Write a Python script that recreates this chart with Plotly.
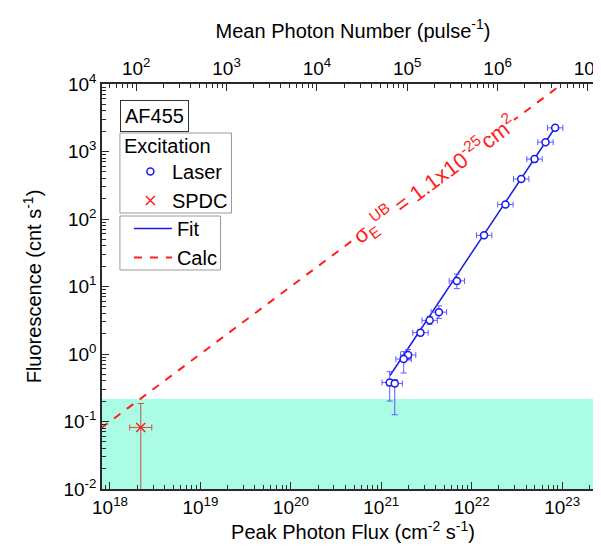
import math
import plotly.graph_objects as go

# ---------------- data ----------------
flux_laser = [8.37e22, 6.55e22, 4.95e22, 3.53e22, 2.36e22, 1.37e22, 6.86e21,
              4.34e21, 3.43e21, 2.71e21, 1.98e21, 1.77e21, 1.24e21, 1.41e21]
fluor_laser = [2240, 1375, 771, 391, 164, 57.3, 12.1,
               4.17, 3.15, 2.07, 0.966, 0.843, 0.378, 0.365]
flux_laser_err_plus = [1.81e22, 1.41e22, 1.07e22, 0.76e22, 0.51e22, 0.30e22, 1.48e21,
                       0.94e21, 0.74e21, 0.59e21, 0.43e21, 0.38e21, 0.27e21, 0.30e21]
flux_laser_err_minus = [1.49e22, 1.17e22, 0.88e22, 0.63e22, 0.42e22, 0.24e22, 1.22e21,
                        0.77e21, 0.61e21, 0.48e21, 0.35e21, 0.32e21, 0.22e21, 0.25e21]
fluor_laser_err_plus = [70, 40, 25, 12, 6, 3, 3.2, 1.0, 0.47, 0.2, 0.2, 0.24, 0.17, 0.05]
fluor_laser_err_minus = [65, 40, 25, 12, 6, 3, 2.8, 0.8, 0.40, 0.2, 0.15, 0.32, 0.177, 0.239]

flux_spdc = [2.19e18]
fluor_spdc = [0.0817]
flux_spdc_err_plus = [0.71e18]
flux_spdc_err_minus = [0.54e18]
fluor_spdc_err_plus = [0.103]
fluor_spdc_err_minus = [0.0812]

fit_flux = [1.25e21, 8.6e22]
fit_fluor = [0.48, 2390]

calc_flux = [8.0e17, 1.0e23]
calc_fluor = [0.08, 1.0e4]

background_level = 0.215   # top of the shaded background band

flux_ticks = [1e18, 1e19, 1e20, 1e21, 1e22, 1e23]
flux_ticktext = ["10<sup>18</sup>", "10<sup>19</sup>", "10<sup>20</sup>",
                 "10<sup>21</sup>", "10<sup>22</sup>", "10<sup>23</sup>"]
photon_ticks = [1e2, 1e3, 1e4, 1e5, 1e6, 1e7]
photon_ticktext = ["10<sup>2</sup>", "10<sup>3</sup>", "10<sup>4</sup>",
                   "10<sup>5</sup>", "10<sup>6</sup>", "10<sup>7</sup>"]
fluor_ticks = [1e-2, 1e-1, 1e0, 1e1, 1e2, 1e3, 1e4]
fluor_ticktext = ["10<sup>-2</sup>", "10<sup>-1</sup>", "10<sup>0</sup>", "10<sup>1</sup>",
                  "10<sup>2</sup>", "10<sup>3</sup>", "10<sup>4</sup>"]

# ---------------- styling ----------------
FONT = "Arial, 'Liberation Sans', sans-serif"
BLUE = "rgb(25,25,235)"
BLUE_ERR = "rgb(90,90,255)"
RED = "rgb(255,30,30)"
AXC = "#2a2a2a"
W, H = 601, 548
ML, MR, MT, MB = 94, 3, 76, 67
PW, PH = W - ML - MR, H - MT - MB
X_RANGE = [17.912, 23.463]
X2_RANGE = [1.621, 7.178]
Y_RANGE = [-2, 4]


def px(xpix):
    return (xpix - ML) / PW


def py(ypix):
    return (H - MB - ypix) / PH


fig = go.Figure()

fig.add_trace(go.Scatter(
    x=calc_flux, y=calc_fluor, mode="lines", name="Calc",
    line=dict(color=RED, width=2, dash="8px,8px"),
    legend="legend2", legendrank=2,
))
fig.add_trace(go.Scatter(
    x=fit_flux, y=fit_fluor, mode="lines", name="Fit",
    line=dict(color=BLUE, width=1.5),
    legend="legend2", legendrank=1,
))
fig.add_trace(go.Scatter(
    x=flux_laser, y=fluor_laser, mode="markers", name="Laser",
    marker=dict(symbol="circle", size=7, color="white", line=dict(color=BLUE, width=1.5)),
    error_x=dict(type="data", array=flux_laser_err_plus, arrayminus=flux_laser_err_minus,
                 color=BLUE_ERR, thickness=1, width=3),
    error_y=dict(type="data", array=fluor_laser_err_plus, arrayminus=fluor_laser_err_minus,
                 color=BLUE_ERR, thickness=1, width=3),
    legend="legend", legendrank=1,
))
fig.add_trace(go.Scatter(
    x=flux_spdc, y=fluor_spdc, mode="markers", name="SPDC",
    marker=dict(symbol="x-thin-open", size=9, color=RED, line=dict(color=RED, width=1.5)),
    error_x=dict(type="data", array=flux_spdc_err_plus, arrayminus=flux_spdc_err_minus,
                 color="rgb(225,70,70)", thickness=1, width=3),
    error_y=dict(type="data", array=fluor_spdc_err_plus, arrayminus=fluor_spdc_err_minus,
                 color="rgb(200,80,80)", thickness=1, width=3),
    legend="legend", legendrank=2,
))
# empty trace so that the top (mean photon number) axis is drawn
fig.add_trace(go.Scatter(x=[], y=[], xaxis="x2", yaxis="y", showlegend=False,
                         hoverinfo="skip", mode="markers"))

# shaded background band (paper coords; plot background left transparent)
band_top = (math.log10(background_level) - Y_RANGE[0]) / (Y_RANGE[1] - Y_RANGE[0])
fig.add_shape(type="rect", xref="paper", yref="paper", x0=0, x1=1,
              y0=0, y1=band_top,
              fillcolor="rgb(170,252,228)", line=dict(width=0), layer="below")

# legend frames
fig.add_shape(type="rect", xref="paper", yref="paper",
              x0=px(112), x1=px(224), y0=py(205), y1=py(125),
              fillcolor="white", line=dict(color="#9a9a9a", width=1), layer="above")
fig.add_shape(type="rect", xref="paper", yref="paper",
              x0=px(112), x1=px(213), y0=py(262), y1=py(208),
              fillcolor="white", line=dict(color="#9a9a9a", width=1), layer="above")

axis_common = dict(
    type="log", showline=True, linecolor=AXC, linewidth=1.5,
    ticks="inside", ticklen=7, tickwidth=1.3, tickcolor=AXC,
    showgrid=False, zeroline=False,
    tickfont=dict(family=FONT, size=19, color="black"),
    minor=dict(ticks="inside", ticklen=4, tickwidth=1, tickcolor=AXC, dtick="D1", showgrid=False),
)

fig.update_layout(
    width=W, height=H,
    margin=dict(l=ML, r=MR, t=MT, b=MB),
    paper_bgcolor="white", plot_bgcolor="rgba(0,0,0,0)",
    font=dict(family=FONT, size=20, color="black"),
    xaxis=dict(
        **axis_common, range=X_RANGE,
        tickmode="array", tickvals=flux_ticks, ticktext=flux_ticktext,
        title=dict(text="Peak Photon Flux (cm<sup>-2</sup> s<sup>-1</sup>)",
                   font=dict(family=FONT, size=20), standoff=6),
    ),
    xaxis2=dict(
        **axis_common, range=X2_RANGE, overlaying="x", side="top", anchor="y",
        tickmode="array", tickvals=photon_ticks, ticktext=photon_ticktext,
        title=dict(text="Mean Photon Number (pulse<sup>-1</sup>)",
                   font=dict(family=FONT, size=20), standoff=11),
    ),
    yaxis=dict(
        **axis_common, range=Y_RANGE, mirror=True,
        tickmode="array", tickvals=fluor_ticks, ticktext=fluor_ticktext,
        title=dict(text="Fluorescence (cnt s<sup>-1</sup>)",
                   font=dict(family=FONT, size=20), standoff=16),
    ),
    legend=dict(
        x=px(121), y=py(144), xanchor="left", yanchor="top",
        bgcolor="rgba(0,0,0,0)", borderwidth=0,
        font=dict(family=FONT, size=20),
        itemwidth=33, tracegroupgap=0,
    ),
    legend2=dict(
        x=px(121), y=py(201), xanchor="left", yanchor="top",
        bgcolor="rgba(0,0,0,0)", borderwidth=0,
        font=dict(family=FONT, size=20),
        itemwidth=38, tracegroupgap=0,
    ),
    showlegend=True,
)

fig.add_annotation(
    xref="paper", yref="paper", x=px(112), y=py(92), xanchor="left", yanchor="top",
    text="AF455", showarrow=False, font=dict(family=FONT, size=20, color="black"),
    bgcolor="white", bordercolor="#333", borderwidth=1, borderpad=4,
)
fig.add_annotation(
    xref="paper", yref="paper", x=px(114), y=py(138), xanchor="left", yanchor="middle",
    text="Excitation", showarrow=False, font=dict(family=FONT, size=20, color="black"),
)
fig.add_annotation(
    xref="paper", yref="paper", x=px(428), y=py(171), xanchor="center", yanchor="middle",
    text="σ<sub>E</sub><sup>UB</sup> = 1.1x10<sup>-25</sup>cm<sup>2</sup>",
    showarrow=False, textangle=-36.6, font=dict(family=FONT, size=22, color=RED),
    bgcolor="white", borderpad=0,
)

fig.write_html("out.html")
